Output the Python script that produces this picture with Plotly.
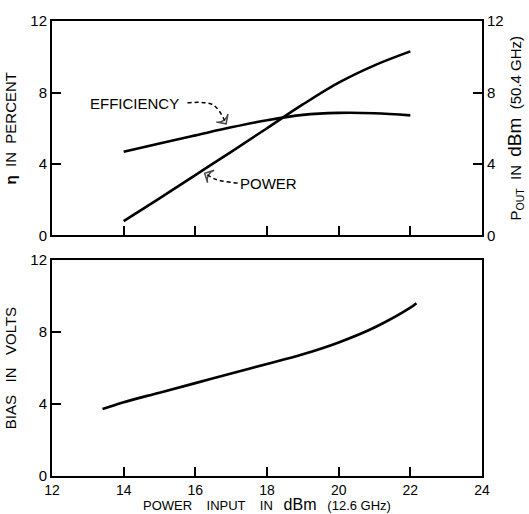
import plotly.graph_objects as go

# Top panel: efficiency (%) and output power (dBm) vs input power (dBm)
pin_top = [14, 15, 16, 17, 18, 19, 20, 21, 22]
efficiency = [4.68, 5.15, 5.6, 6.05, 6.45, 6.75, 6.86, 6.84, 6.72]
pout = [0.8, 2.08, 3.38, 4.68, 6.0, 7.33, 8.55, 9.52, 10.3]

# Bottom panel: bias voltage vs input power
pin_bias = [13.41, 14, 15, 16, 17, 18, 19, 20, 21, 22, 22.17]
bias = [3.72, 4.1, 4.63, 5.16, 5.7, 6.22, 6.76, 7.42, 8.25, 9.35, 9.6]

x_ticks = [12, 14, 16, 18, 20, 22, 24]
y_ticks = [0, 4, 8, 12]

# Pointer arrows for the curve labels (data coordinates of the top panel)
eff_arrow_x = [15.78, 16.5, 16.86]
eff_arrow_y = [7.42, 7.3, 6.25]
pow_arrow_x = [17.18, 16.6, 16.26]
pow_arrow_y = [2.93, 3.12, 3.48]

FONT = "Liberation Sans, Arial, sans-serif"
LW = 2.6

fig = go.Figure()
fig.add_trace(go.Scatter(x=pin_top, y=efficiency, mode="lines", line=dict(color="black", width=LW, shape="spline"),
                         xaxis="x", yaxis="y", showlegend=False, hoverinfo="skip"))
fig.add_trace(go.Scatter(x=pin_top, y=pout, mode="lines", line=dict(color="black", width=LW, shape="spline"),
                         xaxis="x", yaxis="y2", showlegend=False, hoverinfo="skip"))
fig.add_trace(go.Scatter(x=pin_bias, y=bias, mode="lines", line=dict(color="black", width=LW, shape="spline"),
                         xaxis="x2", yaxis="y3", showlegend=False, hoverinfo="skip"))

for ax_, ay_ in ((eff_arrow_x, eff_arrow_y), (pow_arrow_x, pow_arrow_y)):
    fig.add_trace(go.Scatter(x=ax_, y=ay_, mode="lines", xaxis="x", yaxis="y", showlegend=False, hoverinfo="skip",
                             line=dict(color="black", width=1.5, dash="4px,3px", shape="spline")))
    fig.add_trace(go.Scatter(x=ax_[-2:], y=ay_[-2:], mode="markers", xaxis="x", yaxis="y", showlegend=False,
                             hoverinfo="skip",
                             marker=dict(symbol=["circle", "arrow-wide-open"], size=[0, 10], angleref="previous",
                                         color="black", line=dict(color="black", width=1.5))))

axis_common = dict(showline=True, linecolor="black", linewidth=2, showgrid=False, zeroline=False,
                   ticks="inside", tickcolor="black", tickwidth=1.5, ticklen=9, automargin=False,
                   tickfont=dict(family=FONT, size=15, color="black"))

top_dom = [0.5286, 1.0]
bot_dom = [0.0, 0.4747]

fig.update_layout(
    width=529, height=514,
    margin=dict(l=52, r=47, t=21, b=38),
    paper_bgcolor="white", plot_bgcolor="white",
    font=dict(family=FONT, color="black"),
    xaxis=dict(axis_common, range=[12, 24], domain=[0, 1], anchor="y", tickvals=[14, 16, 18, 20, 22],
               showticklabels=False, mirror=True),
    yaxis=dict(axis_common, range=[0, 12], domain=top_dom, anchor="x", tickvals=y_ticks, mirror=True,
               title=dict(text="<b>η</b>  IN  PERCENT", font=dict(size=15), standoff=10)),
    yaxis2=dict(axis_common, range=[0, 12], overlaying="y", side="right", anchor="x", tickvals=y_ticks,
                title=dict(text="P<sub>OUT</sub>  IN  <span style='font-size:19px'>dBm</span>  (50.4 GHz)",
                           font=dict(size=15), standoff=8)),
    xaxis2=dict(axis_common, range=[12, 24], domain=[0, 1], anchor="y3", tickvals=x_ticks, mirror=True,
                tickfont=dict(family=FONT, size=14, color="black")),
    yaxis3=dict(axis_common, range=[0, 12], domain=bot_dom, anchor="x2", tickvals=y_ticks, mirror=True,
                title=dict(text="BIAS   IN   VOLTS", font=dict(size=15), standoff=10)),
)

# x-axis title of the bottom panel
fig.add_annotation(x=0.5, y=0, xref="paper", yref="paper", yanchor="bottom", yshift=-38, showarrow=False,
                   borderpad=0,
                   text="POWER    INPUT    IN   <span style='font-size:16px'>dBm</span>   (12.6 GHz)",
                   font=dict(family=FONT, size=13, color="black"))

fig.add_annotation(x=14.31, y=7.40, xref="x", yref="y", text="EFFICIENCY", showarrow=False,
                   font=dict(family=FONT, size=15, color="black"))
fig.add_annotation(x=18.05, y=2.93, xref="x", yref="y", text="POWER", showarrow=False,
                   font=dict(family=FONT, size=15, color="black"))

fig.write_html("out.html")
